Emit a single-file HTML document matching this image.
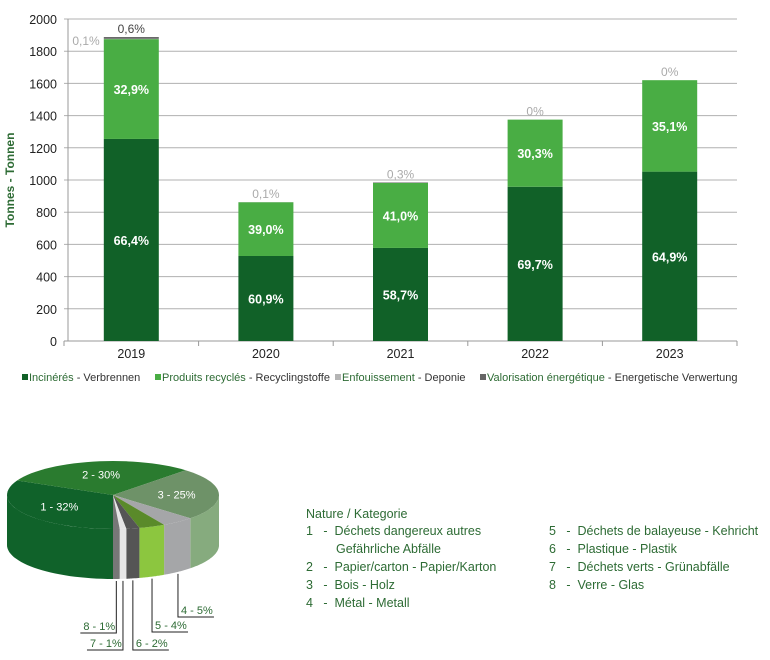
<!DOCTYPE html>
<html><head><meta charset="utf-8"><style>
body{margin:0;background:#fff;width:770px;height:660px;overflow:hidden;font-family:"Liberation Sans",Arial,sans-serif}
svg{position:absolute;left:0;top:0}
.leg{position:absolute;left:306px;top:505px;font-size:12.5px;color:#2d6b34;line-height:19px}
.leg .r{position:absolute;white-space:nowrap}
.leg .d{color:#3a3a3a}
</style></head><body>
<svg id="chart" width="770" height="660"></svg>
<div class="leg">
<div class="r" style="left:0;top:0">Nature / Kategorie</div>
<div class="r" style="left:0;top:17px">1 &nbsp;&nbsp;- &nbsp;Déchets dangereux autres</div>
<div class="r" style="left:30px;top:35px">Gefährliche Abfälle</div>
<div class="r" style="left:0;top:53px">2 &nbsp;&nbsp;- &nbsp;Papier/carton - Papier/Karton</div>
<div class="r" style="left:0;top:71px">3 &nbsp;&nbsp;- &nbsp;Bois - Holz</div>
<div class="r" style="left:0;top:89px">4 &nbsp;&nbsp;- &nbsp;Métal - Metall</div>
<div class="r" style="left:243px;top:17px">5 &nbsp;&nbsp;- &nbsp;Déchets de balayeuse - Kehricht</div>
<div class="r" style="left:243px;top:35px">6 &nbsp;&nbsp;- &nbsp;Plastique - Plastik</div>
<div class="r" style="left:243px;top:53px">7 &nbsp;&nbsp;- &nbsp;Déchets verts - Grünabfälle</div>
<div class="r" style="left:243px;top:71px">8 &nbsp;&nbsp;- &nbsp;Verre - Glas</div>
</div>
<script>
const years=["2019","2020","2021","2022","2023"];
const incin=[1255,528,578,958,1052];
const recyc=[620,334,404,417,568];
const landfill=[2,1,0,0,0];
const energy=[11,0,3,0,0];
const incinLbl=["66,4%","60,9%","58,7%","69,7%","64,9%"];
const recycLbl=["32,9%","39,0%","41,0%","30,3%","35,1%"];
const topLbl=["0,6%","0,1%","0,3%","0%","0%"];
const yTicks=[0,200,400,600,800,1000,1200,1400,1600,1800,2000];
const pieVals=[32,30,25,5,4,2,1,1];
const pieLbl=["1 - 32%","2 - 30%","3 - 25%","4 - 5%","5 - 4%","6 - 2%","7 - 1%","8 - 1%"];

const NS="http://www.w3.org/2000/svg";
const svg=document.getElementById('chart');
function mk(t,a,p){const e=document.createElementNS(NS,t);for(const k in a)e.setAttribute(k,a[k]);(p||svg).appendChild(e);return e;}
const X0=64,X1=737,Y0=341,Y1=19,YMAX=2000;
const y=v=>Y0-(v/YMAX)*(Y0-Y1);
const band=(X1-X0)/years.length;
const xc=i=>X0+band*(i+0.5);
const BW=55;
yTicks.forEach(t=>{
  const g=mk('line',{x1:X0,x2:X1,y1:y(t),y2:y(t),stroke:t?'#b0b0b0':'#999','stroke-width':1});
  
  
  const l=mk('text',{x:57,y:y(t)+5,'text-anchor':'end','font-size':12.5,fill:'#222'});l.textContent=t;
  
  
});
mk('line',{x1:X0+4,x2:X0+4,y1:Y1,y2:Y0,stroke:'#999'});
const yt=mk('text',{x:14,y:180,transform:'rotate(-90 14 180)','text-anchor':'middle','font-size':12,'font-weight':'bold',fill:'#2d6b34'});yt.textContent='Tonnes - Tonnen';


for(let i=0;i<=years.length;i++){mk('line',{x1:X0+band*i,x2:X0+band*i,y1:Y0,y2:Y0+5,stroke:'#999'});}
years.forEach((yr,i)=>{
  const cx=xc(i),x=cx-BW/2;
  let b=0;
  const segs=[[incin[i],'#116128','incin'],[recyc[i],'#49ad44','recycled'],[landfill[i],'#b5b5b5','landfill'],[energy[i],'#666','energy']];
  segs.forEach(s=>{if(s[0]<=0)return;const r=mk('rect',{x:x,y:y(b+s[0]),width:BW,height:y(b)-y(b+s[0]),fill:s[1]});
    
    b+=s[0];});
  const tot=b;
  const t1=mk('text',{x:cx,y:y(incin[i]/2)+5,'text-anchor':'middle','font-size':12.5,'font-weight':'bold',fill:'#fff'});t1.textContent=incinLbl[i];
  
  
  const t2=mk('text',{x:cx,y:y(incin[i]+recyc[i]/2)+5,'text-anchor':'middle','font-size':12.5,'font-weight':'bold',fill:'#fff'});t2.textContent=recycLbl[i];
  
  
  const t3=mk('text',{x:cx,y:y(tot)-4,'text-anchor':'middle','font-size':12,fill:i==0?'#444':'#aaa'});t3.textContent=topLbl[i];
  
  
  const xl=mk('text',{x:cx,y:358,'text-anchor':'middle','font-size':12.5,fill:'#222'});xl.textContent=yr;
  
  
});
const t0=mk('text',{x:86,y:45,'text-anchor':'middle','font-size':12,fill:'#aaa'});t0.textContent='0,1%';


// bar legend
const legs=[['#116128','Incinérés',' - Verbrennen',22],['#49ad44','Produits recyclés',' - Recyclingstoffe',155],['#b5b5b5','Enfouissement',' - Deponie',335],['#666','Valorisation énergétique',' - Energetische Verwertung',480]];
legs.forEach(l=>{
  const g=mk('g',{});
  
  
  mk('rect',{x:l[3],y:374,width:6,height:6,fill:l[0]},g);
  const t=mk('text',{x:l[3]+7,y:381,'font-size':11,fill:'#2d6b34','textLength':0},g);t.removeAttribute('textLength');
  const a=document.createElementNS(NS,'tspan');a.textContent=l[1];t.appendChild(a);
  const b=document.createElementNS(NS,'tspan');b.textContent=l[2];b.setAttribute('fill','#333');t.appendChild(b);
});
// pie
const PCX=113,PCY=495,RX=106,RY=34,DEP=50;
const topCol=['#10622a','#2a7b2f','#6e9268','#a5a6a8','#5a8a2a','#555','#e6e6e6','#777'];
const sideCol=['#10622a','#2a7b2f','#86ab7e','#a5a6a8','#8cc63f','#555','#e6e6e6','#777'];
const tot=pieVals.reduce((a,b)=>a+b,0);
const pt=(a,dy)=>[PCX+RX*Math.cos(a),PCY+RY*Math.sin(a)+(dy||0)];
let ang=Math.PI/2;const sl=[];
pieVals.forEach(v=>{const a2=ang+v/tot*2*Math.PI;sl.push([ang,a2]);ang=a2;});
function arcPath(a1,a2,dy){let d='';const n=30;for(let k=0;k<=n;k++){const a=a1+(a2-a1)*k/n;const p=pt(a,dy);d+=(k?'L':'M')+p[0].toFixed(1)+','+p[1].toFixed(1);}return d;}
sl.forEach((s,i)=>{
  // visible front part: sin>0 -> angle in (0,PI) mod 2PI
  for(let off=-2;off<=2;off++){
    const lo=Math.max(s[0],off*2*Math.PI),hi=Math.min(s[1],off*2*Math.PI+Math.PI);
    if(hi>lo){
      let d=arcPath(lo,hi,0);
      const back=arcPath(hi,lo,DEP).replace('M','L');
      const p=mk('path',{d:d+back+'Z',fill:sideCol[i]});
      
      
    }
  }
});
sl.forEach((s,i)=>{
  const p=mk('path',{d:'M'+PCX+','+PCY+arcPath(s[0],s[1],0).replace('M','L')+'Z',fill:topCol[i]});
  
  
});
[0,1,2].forEach(i=>{
  const m=(sl[i][0]+sl[i][1])/2;const p=[PCX+RX*0.6*Math.cos(m),PCY+RY*0.62*Math.sin(m)];
  const t=mk('text',{x:p[0],y:p[1]+4,'text-anchor':'middle','font-size':11,fill:'#fff'});t.textContent=pieLbl[i];
  
  
});
const lead=[[3,617,1],[4,632,1],[5,650,1],[6,650,-1],[7,633,-1]];
lead.forEach(L=>{
  const i=L[0],m=(sl[i][0]+sl[i][1])/2,p=pt(m,DEP);
  const lx=p[0],dir=L[2],end=lx+dir*36;
  const g=mk('g',{});
  
  
  mk('polyline',{points:lx+','+(p[1]+2)+' '+lx+','+L[1]+' '+end+','+L[1],fill:'none',stroke:'#222','stroke-width':1},g);
  const t=mk('text',{x:dir>0?lx+3:end+3,y:L[1]-3,'font-size':11,fill:'#2d6b34'},g);t.textContent=pieLbl[i];
});
</script>
</body></html>
